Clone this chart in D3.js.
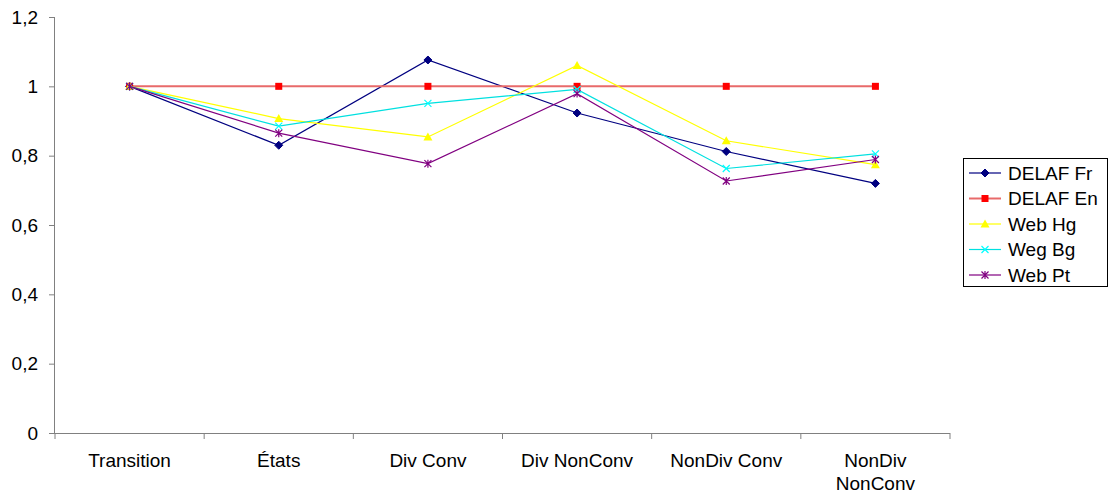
<!DOCTYPE html>
<html><head><meta charset="utf-8">
<script src="https://cdn.jsdelivr.net/npm/d3@7"></script>
<style>body{margin:0;background:#fff}svg{display:block}text{font-family:"Liberation Sans",Arial,sans-serif}</style>
</head><body><svg id="c" width="1110" height="498"></svg>
<script>
const categories = ["Transition","États","Div Conv","Div NonConv","NonDiv Conv","NonDiv NonConv"];
const delafFr = [1, 0.83, 1.076, 0.923, 0.812, 0.72];
const delafEn = [1, 1, 1, 1, 1, 1];
const webHg = [1, 0.907, 0.854, 1.06, 0.843, 0.774];
const wegBg = [1, 0.885, 0.951, 0.991, 0.763, 0.805];
const webPt = [1, 0.865, 0.777, 0.979, 0.727, 0.789];
const yTicks = [0, 0.2, 0.4, 0.6, 0.8, 1, 1.2];

const series = [
  {name:"DELAF Fr", values:delafFr, color:"#000080", line:"#000080", marker:"diamond"},
  {name:"DELAF En", values:delafEn, color:"#ff0000", line:"#e86a6a", marker:"square"},
  {name:"Web Hg", values:webHg, color:"#ffff00", line:"#ffff00", marker:"triangle"},
  {name:"Weg Bg", values:wegBg, color:"#00ffff", line:"#00e0e0", marker:"x"},
  {name:"Web Pt", values:webPt, color:"#800080", line:"#800080", marker:"star"}
];

const FS = 19;
const svg = d3.select("#c");
const x = d3.scaleBand().domain(categories).range([55, 950]);
const y = d3.scaleLinear().domain([0, 1.2]).range([433, 17]);
const fmt = d => String(d).replace(".", ",");

// Y axis
const ya = svg.append("g").attr("transform","translate(55,0)")
  .call(d3.axisLeft(y).tickValues(yTicks).tickFormat(fmt).tickSize(6).tickPadding(11));
ya.select(".domain").attr("stroke","#808080").attr("d","M-0.5,17V433");
ya.selectAll(".tick line").attr("stroke","#808080");
ya.selectAll("text").attr("font-size",FS).attr("fill","#000").attr("font-family","Liberation Sans, Arial, sans-serif");

// X axis
const xa = svg.append("g").attr("transform","translate(0,433)")
  .call(d3.axisBottom(x).tickSize(0).tickFormat(""));
xa.select(".domain").attr("stroke","#808080").attr("d","M55,0.5H950");
const tickPos = categories.map(c => x(c)).concat([x.range()[1]]);
xa.selectAll(".tk").data(tickPos).enter().append("line").attr("class","tk")
  .attr("x1",d=>d).attr("x2",d=>d).attr("y1",0).attr("y2",6).attr("stroke","#808080");
const labels = svg.append("g");
categories.forEach(c => {
  const cx = x(c) + x.bandwidth()/2;
  const parts = c === "NonDiv NonConv" ? ["NonDiv","NonConv"] : [c];
  parts.forEach((p,i) => {
    labels.append("text").attr("x",cx).attr("y",467 + i*23).attr("text-anchor","middle")
      .attr("font-size",FS).attr("fill","#000").text(p);
  });
});

function drawMarker(g, type, color, cx, cy) {
  const s = 4;
  if (type === "diamond") {
    g.append("path").attr("d",`M${cx},${cy-s}L${cx+s},${cy}L${cx},${cy+s}L${cx-s},${cy}Z`).attr("fill",color).attr("stroke",color);
  } else if (type === "square") {
    g.append("rect").attr("x",cx-3.5).attr("y",cy-3.5).attr("width",7).attr("height",7).attr("fill",color);
  } else if (type === "triangle") {
    g.append("path").attr("d",`M${cx},${cy-4.5}L${cx+4.5},${cy+3.5}L${cx-4.5},${cy+3.5}Z`).attr("fill",color);
  } else if (type === "x") {
    g.append("path").attr("d",`M${cx-3.5},${cy-3.5}L${cx+3.5},${cy+3.5}M${cx+3.5},${cy-3.5}L${cx-3.5},${cy+3.5}`).attr("stroke",color).attr("stroke-width",1.2);
  } else if (type === "star") {
    g.append("path").attr("d",`M${cx-3.5},${cy-3.5}L${cx+3.5},${cy+3.5}M${cx+3.5},${cy-3.5}L${cx-3.5},${cy+3.5}M${cx},${cy-4}L${cx},${cy+4}`).attr("stroke",color).attr("stroke-width",1.2);
  }
}

const line = d3.line().x((d,i) => x(categories[i]) + x.bandwidth()/2).y(d => y(d));
series.forEach(s => {
  const g = svg.append("g");
  g.append("path").attr("d", line(s.values)).attr("fill","none").attr("stroke",s.line).attr("stroke-width",s.marker==="square"?2:1.2);
  s.values.forEach((v,i) => drawMarker(g, s.marker, s.color, x(categories[i]) + x.bandwidth()/2, y(v)));
});

// Legend
const lg = svg.append("g");
lg.append("rect").attr("x",963.5).attr("y",158.5).attr("width",144).attr("height",128).attr("fill","#fff").attr("stroke","#000").attr("stroke-width",1);
series.forEach((s,i) => {
  const ly = 173 + i*25.5;
  lg.append("line").attr("x1",969).attr("x2",1001).attr("y1",ly).attr("y2",ly).attr("stroke",s.line).attr("stroke-width",s.marker==="square"?2:1.2);
  drawMarker(lg, s.marker, s.color, 985, ly);
  lg.append("text").attr("x",1008).attr("y",ly+6.5).attr("font-size",FS).attr("fill","#000").text(s.name);
});
</script></body></html>
